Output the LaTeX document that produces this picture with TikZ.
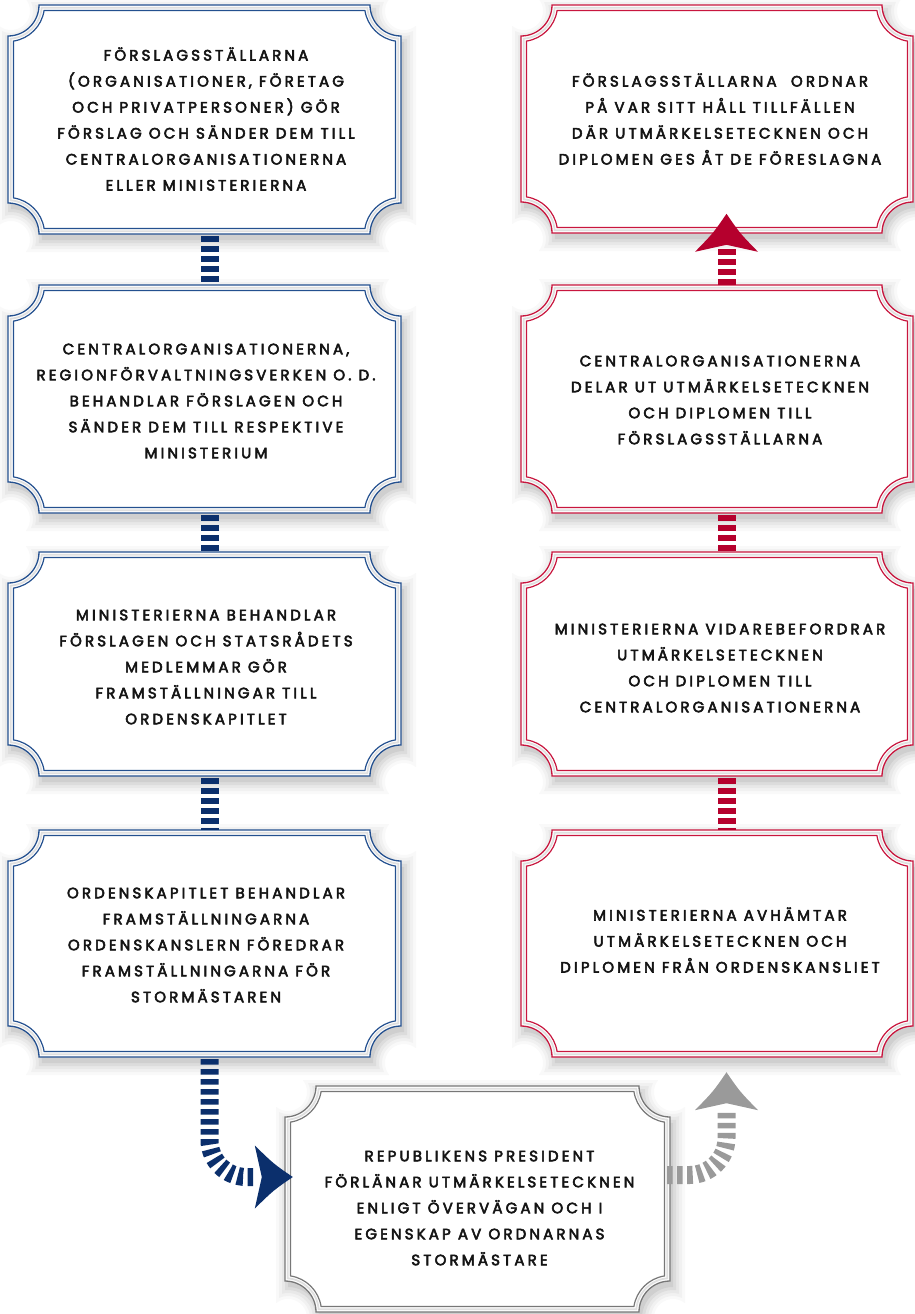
\documentclass[tikz,border=0pt]{standalone}
\usepackage{fontspec}
\newfontfamily\boxfont{Poppins}[LetterSpace=21,FakeBold=3.5]
\usetikzlibrary{calc}
\definecolor{navy}{HTML}{0B2F6C}
\definecolor{navyline}{HTML}{24508F}
\definecolor{crim}{HTML}{B5002D}
\definecolor{crimline}{HTML}{C8163E}
\definecolor{grayarrow}{HTML}{9A9A9A}
\definecolor{grayline}{HTML}{777777}
\definecolor{txt}{HTML}{141414}
% scalloped path: x0 y0 x1 y1 (pixels, y down), offset d, s, t0, rho
\newcommand\scpath[8]{({#1+(#5)},{-(#2+(#6))}) arc[start angle={#7-90}, end angle={-1*(#7)}, radius={#8}] -- ({#3-(#6)},{-(#2+(#5))}) arc[start angle={#7-180}, end angle={-90-(#7)}, radius={#8}] -- ({#3-(#5)},{-(#4-(#6))}) arc[start angle={#7-270}, end angle={-180-(#7)}, radius={#8}] -- ({#1+(#6)},{-(#4-(#5))}) arc[start angle={#7-360}, end angle={-270-(#7)}, radius={#8}] -- cycle}
\newcommand\scshadow[4]{%
  \foreach \e/\o in {12/0.025,9/0.032,6/0.04,3/0.05,0/0.06}{%
    \pgfmathsetmacro\sR{31-\e}%
    \pgfmathsetmacro\sS{sqrt(\sR*\sR-\e*\e)}%
    \pgfmathsetmacro\sT{asin(-\e/\sR)}%
    \pgfmathsetmacro\sD{-\e}%
    \fill[black,opacity=\o,shift={(3,-6)}] \scpath{#1}{#2}{#3}{#4}{\sD}{\sS}{\sT}{\sR};
  }}
\newcommand\scframe[5]{%
  \fill[white] \scpath{#1}{#2}{#3}{#4}{0}{31}{0}{31};
  \draw[gray!25, line width=1.8] \scpath{#1}{#2}{#3}{#4}{2.8}{33.68}{4.75}{33.8};
  \draw[#5, line width=1.3] \scpath{#1}{#2}{#3}{#4}{0}{31}{0}{31};
  \draw[#5, line width=1.2] \scpath{#1}{#2}{#3}{#4}{5.5}{36.08}{8.67}{36.5};
}
\newcommand\schead[3]{%
  \fill[#3, shift={(#1)}, rotate=#2] (0,0) .. controls (-19,13) .. (-38,31.5) -- (-31,0) -- (-38,-31.5) .. controls (-19,-13) .. (0,0);
}
\tikzset{
  boxtxt/.style={align=center, inner sep=0pt, text=txt, font=\boxfont\fontsize{15}{26}\selectfont},
  boxnode/.style={inner sep=0pt, minimum width=#1, minimum height=228},
  bstripe/.style={navy, line width=18pt, dash pattern=on 5.5pt off 4.5pt},
  rstripe/.style={crim, line width=18pt, dash pattern=on 5.5pt off 4.5pt},
  gstripe/.style={grayarrow, line width=18pt, dash pattern=on 5.5pt off 4.5pt},
}
\begin{document}
\begin{tikzpicture}[x=1pt,y=1pt]
\useasboundingbox (0,0) rectangle (914,-1314);
% shadows
\scshadow{8}{5}{401}{234}
\scshadow{8}{285}{401}{513}
\scshadow{8}{552}{401}{776}
\scshadow{8}{830}{401}{1057}
\scshadow{521}{5}{913}{233}
\scshadow{521}{285}{913}{513}
\scshadow{521}{552}{913}{776}
\scshadow{521}{830}{913}{1057}
\scshadow{285}{1086}{670}{1312}
% frames
\scframe{8}{5}{401}{234}{navyline}
\scframe{8}{285}{401}{513}{navyline}
\scframe{8}{552}{401}{776}{navyline}
\scframe{8}{830}{401}{1057}{navyline}
\scframe{521}{5}{913}{233}{crimline}
\scframe{521}{285}{913}{513}{crimline}
\scframe{521}{552}{913}{776}{crimline}
\scframe{521}{830}{913}{1057}{crimline}
\scframe{285}{1086}{670}{1312}{grayline}
% box nodes
\node[boxnode=393, minimum height=229] (l1) at (204.5,-119.5) {};
\node[boxnode=393] (l2) at (204.5,-399) {};
\node[boxnode=393, minimum height=224] (l3) at (204.5,-664) {};
\node[boxnode=393, minimum height=227] (l4) at (204.5,-943.5) {};
\node[boxnode=392] (r1) at (717,-119) {};
\node[boxnode=392] (r2) at (717,-399) {};
\node[boxnode=392, minimum height=224] (r3) at (717,-664) {};
\node[boxnode=392, minimum height=227] (r4) at (717,-943.5) {};
\node[boxnode=385, minimum height=226] (g) at (477.5,-1199) {};
% texts
\node[boxtxt] (tl1) at (206,-119) {FÖRSLAGSSTÄLLARNA\\(ORGANISATIONER, FÖRETAG\\OCH PRIVATPERSONER) GÖR\\FÖRSLAG OCH SÄNDER DEM TILL\\CENTRALORGANISATIONERNA\\ELLER MINISTERIERNA};
\node[boxtxt] (tl2) at (206,-401) {CENTRALORGANISATIONERNA,\\REGIONFÖRVALTNINGSVERKEN O. D.\\BEHANDLAR FÖRSLAGEN OCH\\SÄNDER DEM TILL RESPEKTIVE\\MINISTERIUM};
\node[boxtxt] (tl3) at (206,-667) {MINISTERIERNA BEHANDLAR\\FÖRSLAGEN OCH STATSRÅDETS\\MEDLEMMAR GÖR\\FRAMSTÄLLNINGAR TILL\\ORDENSKAPITLET};
\node[boxtxt] (tl4) at (206,-945) {ORDENSKAPITLET BEHANDLAR\\FRAMSTÄLLNINGARNA\\ORDENSKANSLERN FÖREDRAR\\FRAMSTÄLLNINGARNA FÖR\\STORMÄSTAREN};
\node[boxtxt] (tr1) at (720,-119) {FÖRSLAGSSTÄLLARNA~ ORDNAR\\PÅ VAR SITT HÅLL TILLFÄLLEN\\DÄR UTMÄRKELSETECKNEN OCH\\DIPLOMEN GES ÅT DE FÖRESLAGNA};
\node[boxtxt] (tr2) at (720,-400) {CENTRALORGANISATIONERNA\\DELAR UT UTMÄRKELSETECKNEN\\OCH DIPLOMEN TILL\\FÖRSLAGSSTÄLLARNA};
\node[boxtxt] (tr3) at (720,-668) {MINISTERIERNA VIDAREBEFORDRAR\\UTMÄRKELSETECKNEN\\OCH DIPLOMEN TILL\\CENTRALORGANISATIONERNA};
\node[boxtxt] (tr4) at (720,-940) {MINISTERIERNA AVHÄMTAR\\UTMÄRKELSETECKNEN OCH\\DIPLOMEN FRÅN ORDENSKANSLIET};
\node[boxtxt] (tg) at (479.5,-1208) {REPUBLIKENS PRESIDENT\\FÖRLÄNAR UTMÄRKELSETECKNEN\\ENLIGT ÖVERVÄGAN OCH I\\EGENSKAP AV ORDNARNAS\\STORMÄSTARE};
% left connectors
\draw[bstripe] ([xshift=5,yshift=-2]l1.south) -- ([xshift=5]l2.north);
\draw[bstripe] ([xshift=5,yshift=-2]l2.south) -- ([xshift=5]l3.north);
\draw[bstripe] ([xshift=5,yshift=-2]l3.south) -- ([xshift=5]l4.north);
% right connectors
\draw[rstripe] ([xshift=9.5,yshift=-2]r2.south) -- ([xshift=9.5]r3.north);
\draw[rstripe] ([xshift=9.5,yshift=-2]r3.south) -- ([xshift=9.5]r4.north);
% red arrow up
\coordinate (rt) at ([xshift=9.5,yshift=71]r2.north);
\draw[rstripe] ([xshift=9.5]r2.north) -- ([yshift=-32]rt);
\schead{rt}{90}{crim}
% blue arrow to president
\coordinate (bs) at ([xshift=5,yshift=-2]l4.south);
\coordinate (bt) at ([xshift=8,yshift=22]g.west);
\draw[bstripe, rounded corners=37pt] (bs) |- ([xshift=-38]bt);
\schead{bt}{0}{navy}
% gray arrow up
\coordinate (gs) at ([xshift=-3,yshift=24]g.east);
\coordinate (gt) at ([xshift=9.5,yshift=-15]r4.south);
\draw[gstripe, rounded corners=37pt] (gs) -| ([yshift=-38]gt);
\schead{gt}{90}{grayarrow}
\end{tikzpicture}
\end{document}
